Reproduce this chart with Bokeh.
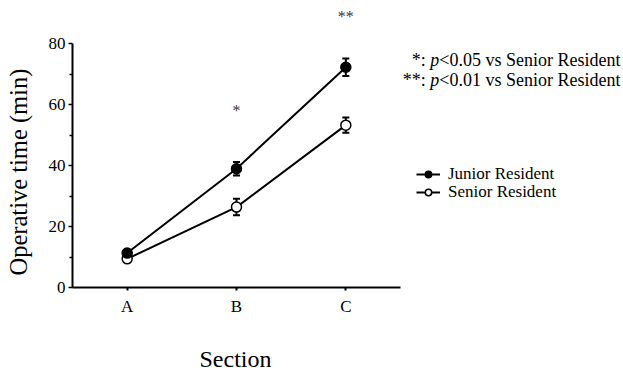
from bokeh.plotting import figure
from bokeh.models import (Range1d, FixedTicker, Whisker, ColumnDataSource, Label, Legend,
                          LegendItem, CustomJSTickFormatter, Title)
from bokeh.embed import file_html
from bokeh.resources import INLINE

# ---- data ----
sections = ["A", "B", "C"]
junior_mean = [11.3, 39.0, 72.3]
junior_err = [1.0, 2.2, 2.9]
senior_mean = [9.4, 26.4, 53.3]
senior_err = [0.8, 2.7, 2.5]
sig_labels = ["", "*", "**"]
sig_heights = [0, 58.0, 89.0]
y_ticks = [0, 20, 40, 60, 80]
y_minor = [10, 30, 50, 70]
series_names = ["Junior Resident", "Senior Resident"]
x_title = "Section"
y_title = "Operative time (min)"

FONT = '"Liberation Serif", "Times New Roman", serif'
W, H = 623, 372
LEFT, BOTTOM_PX = 72, 287
X_PX_PER = 109.33
Y_PX_PER = 3.046

xpos = [i + 0.5 for i in range(len(sections))]

p = figure(width=W, height=H, output_backend="svg", toolbar_location=None,
           x_range=Range1d(0, (W - LEFT) / X_PX_PER),
           y_range=Range1d(0, BOTTOM_PX / Y_PX_PER),
           min_border_left=LEFT, min_border_right=0, min_border_top=0,
           min_border_bottom=H - BOTTOM_PX)
p.outline_line_color = None
p.grid.visible = False
p.background_fill_color = "white"
p.border_fill_color = "white"

def px2x(px):
    return (px - LEFT) / X_PX_PER

def px2y(py):
    return (BOTTOM_PX - py) / Y_PX_PER

# axes
xa = p.xaxis[0]
xa.bounds = (0, len(sections))
xa.ticker = FixedTicker(ticks=xpos)
xa.formatter = CustomJSTickFormatter(args=dict(labels=sections),
                                     code="return labels[Math.round(tick - 0.5)];")
xa.axis_line_width = 2
xa.major_tick_line_width = 2
xa.major_tick_out = 3
xa.major_tick_in = 0
xa.minor_tick_line_color = None
xa.major_label_text_font = FONT
xa.major_label_text_font_size = "17px"
xa.major_label_text_color = "black"
xa.major_label_standoff = 6
xa.axis_label = " "
xa.axis_label_text_font_size = "10px"
xa.axis_label_standoff = 10

ya = p.yaxis[0]
ya.bounds = (0, 80)
ya.ticker = FixedTicker(ticks=y_ticks, minor_ticks=y_minor)
ya.axis_line_width = 2
ya.major_tick_line_width = 1.5
ya.major_tick_out = 4
ya.major_tick_in = 0
ya.minor_tick_line_width = 1.5
ya.minor_tick_out = 3
ya.minor_tick_in = 0
ya.major_label_text_font = FONT
ya.major_label_text_font_size = "17px"
ya.major_label_text_color = "black"
ya.major_label_standoff = 3
ya.axis_label = " "
ya.axis_label_text_font_size = "2px"
ya.axis_label_standoff = 8

# axis titles, positioned along the drawn axis extents
p.add_layout(Title(text=x_title, align="left", offset=127, vertical_align="bottom",
                   standoff=2, text_font=FONT, text_font_size="24px",
                   text_font_style="normal", text_color="black"), "below")
p.add_layout(Title(text=y_title, align="left", offset=12, vertical_align="bottom",
                   standoff=2, text_font=FONT, text_font_size="24.5px",
                   text_font_style="normal", text_color="black"), "left")

# series sources
s_src = ColumnDataSource(dict(x=xpos, y=senior_mean,
                              lo=[m - e for m, e in zip(senior_mean, senior_err)],
                              hi=[m + e for m, e in zip(senior_mean, senior_err)]))
j_src = ColumnDataSource(dict(x=xpos, y=junior_mean,
                              lo=[m - e for m, e in zip(junior_mean, junior_err)],
                              hi=[m + e for m, e in zip(junior_mean, junior_err)]))

s_line = p.line("x", "y", source=s_src, line_color="black", line_width=2)
j_line = p.line("x", "y", source=j_src, line_color="black", line_width=2)

for src in (s_src, j_src):
    w = Whisker(source=src, base="x", lower="lo", upper="hi", line_color="black", line_width=2)
    w.upper_head.size = 7
    w.lower_head.size = 7
    w.upper_head.line_width = 2
    w.lower_head.line_width = 2
    p.add_layout(w)

s_pts = p.scatter("x", "y", source=s_src, size=10, marker="circle",
                  fill_color="white", line_color="black", line_width=1.5)
j_pts = p.scatter("x", "y", source=j_src, size=10, marker="circle",
                  fill_color="black", line_color="black", line_width=1.5)

# significance marks
idx = [i for i in range(len(sections)) if sig_labels[i]]
sig_src = ColumnDataSource(dict(x=[xpos[i] for i in idx],
                                y=[sig_heights[i] for i in idx],
                                t=[sig_labels[i] for i in idx]))
p.text("x", "y", text="t", source=sig_src, text_font={"value": FONT}, text_font_size="16px",
       text_align="center", text_baseline="middle", text_color="#3a3a3a")

# significance note (right-aligned, italic p)
def note(stars, tail, py):
    y = px2y(py)
    xr = px2x(620)
    tail_w = 181.2
    p.add_layout(Label(x=xr, y=y, text=tail, text_font=FONT, text_font_size="18px",
                       text_align="right", text_baseline="middle", text_color="black"))
    p.add_layout(Label(x=xr, y=y, x_offset=-tail_w, text="p", text_font=FONT,
                       text_font_size="18px", text_font_style="italic",
                       text_align="right", text_baseline="middle", text_color="black"))
    p.add_layout(Label(x=xr, y=y, x_offset=-tail_w - 9 - 4.5, text=stars + ":", text_font=FONT,
                       text_font_size="18px", text_align="right", text_baseline="middle",
                       text_color="black"))

note("*", "<0.05 vs Senior Resident", 59)
note("**", "<0.01 vs Senior Resident", 79)

def add_legend(name, renderers, bottom_px):
    lg = Legend(items=[LegendItem(label=name, renderers=renderers)],
                location=(416 - LEFT, BOTTOM_PX - bottom_px))
    lg.border_line_color = None
    lg.background_fill_alpha = 0
    lg.padding = 0
    lg.margin = 0
    lg.glyph_width = 24
    lg.glyph_height = 16
    lg.label_height = 16
    lg.label_standoff = 8
    lg.label_text_font = FONT
    lg.label_text_font_size = "17px"
    lg.label_text_color = "black"
    p.add_layout(lg)

add_legend(series_names[0], [j_line, j_pts], 184)
add_legend(series_names[1], [s_line, s_pts], 202)

open("out.html", "w").write(file_html(p, INLINE))
